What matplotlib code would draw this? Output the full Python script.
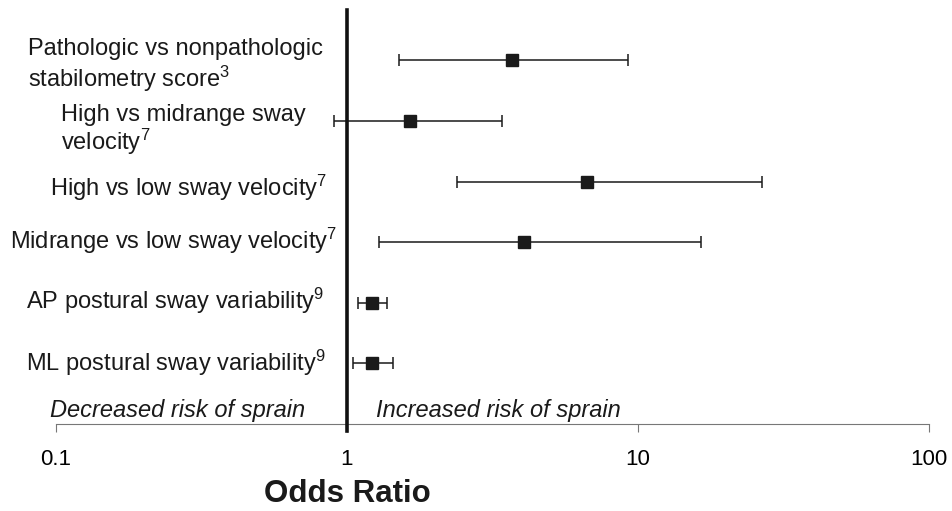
import matplotlib
matplotlib.use("Agg")
import matplotlib.pyplot as plt

plt.rcParams['font.family'] = ['Liberation Sans', 'DejaVu Sans']
plt.rcParams['mathtext.fontset'] = 'custom'
plt.rcParams['mathtext.rm'] = 'Liberation Sans'
plt.rcParams['mathtext.it'] = 'Liberation Sans:italic'

# data
labels = [
    'Pathologic vs nonpathologic\nstabilometry score$^{3}$',
    'High vs midrange sway\nvelocity$^{7}$',
    'High vs low sway velocity$^{7}$',
    'Midrange vs low sway velocity$^{7}$',
    'AP postural sway variability$^{9}$',
    'ML postural sway variability$^{9}$',
]
odds = [3.68, 1.65, 6.66, 4.06, 1.22, 1.22]
lower = [1.51, 0.90, 2.39, 1.29, 1.09, 1.05]
upper = [9.24, 3.40, 26.7, 16.5, 1.37, 1.44]
ticks = [0.1, 1, 10, 100]
tick_labels = ['0.1', '1', '10', '100']

W, H = 952, 511
fig = plt.figure(figsize=(W / 100, H / 100), dpi=100)
ax = fig.add_axes([56 / W, (H - 424) / H, 873 / W, 414 / H])

ypos = list(range(len(labels), 0, -1))
err_lo = [o - l for o, l in zip(odds, lower)]
err_hi = [u - o for o, u in zip(odds, upper)]
ax.errorbar(odds, ypos, xerr=[err_lo, err_hi], fmt='s', color='#1a1a1a',
            ms=8.5, elinewidth=1.1, capsize=4.4, capthick=1.1)

ax.set_xscale('log')
ax.set_xlim(0.1, 100)
ax.set_ylim(0, 6.83)

# reference line at OR = 1
ax.plot([1, 1], [-0.12, 6.83], color='#111111', lw=2.6, clip_on=False, zorder=3)

for s in ['left', 'top', 'right']:
    ax.spines[s].set_visible(False)
ax.spines['bottom'].set_color('#777777')
ax.spines['bottom'].set_linewidth(0.8)
ax.set_yticks([])
ax.set_xticks(ticks)
ax.set_xticklabels(tick_labels)
ax.xaxis.set_minor_locator(matplotlib.ticker.NullLocator())
ax.tick_params(axis='x', length=6, width=0.8, color='#777777', labelsize=16, pad=12)


def ptext(x, y, s, **kw):
    # place text by pixel position (x left, y baseline from top)
    fig.text(x / W, 1 - y / H, s, color='#1a1a1a', **kw)


# row labels: left edge and baseline of each line, in pixels
fs = 17
label_x = [28, 61, 50, 10, 26, 26]
label_base = [[55, 87], [121, 150], [196], [249], [309], [371]]
for lab, x, bases in zip(labels, label_x, label_base):
    for line, b in zip(lab.split('\n'), bases):
        ptext(x, b, line, ha='left', va='baseline', fontsize=fs)

ptext(50, 417, 'Decreased risk of sprain', ha='left', va='baseline',
      fontsize=fs, style='italic')
ptext(376, 417, 'Increased risk of sprain', ha='left', va='baseline',
      fontsize=fs, style='italic')

ptext(347, 494, 'Odds Ratio', ha='center', va='center',
      fontsize=22.5, fontweight='bold')

fig.savefig('out.png', dpi=100)
